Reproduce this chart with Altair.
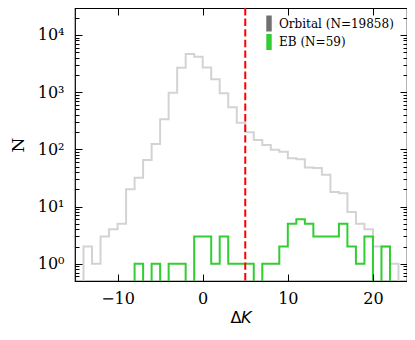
import altair as alt
import pandas as pd

# ---------------- data ----------------
bin_width = 1
orbital_first_edge = -14
orbital_counts = [2, 1, 3, 4, 5, 20, 32, 65, 124, 335, 977, 2667, 4620, 4150, 2700,
                  1672, 953, 543, 292, 199, 146, 119, 98, 91, 70, 67, 48, 47, 36, 18,
                  17, 8, 5, 4, 2, 2, 1]
eb_first_edge = -8
eb_counts = [1, 0, 1, 0, 1, 1, 0, 3, 3, 1, 3, 1, 1, 1, 0, 1, 1, 2, 5, 6, 5, 3, 3, 3,
             5, 2, 1, 3, 0, 2]
series_labels = ["Orbital (N=19858)", "EB (N=59)"]
cut_value = [5]

x_tick_values = [-10, 0, 10, 20]
y_major_values = [1, 10, 100, 1000, 10000]
y_major_labels = ["10\u2070", "10\u00b9", "10\u00b2", "10\u00b3", "10\u2074"]

X_DOMAIN = [-15, 24]
Y_DOMAIN = [0.5, 29500]
W, H = 332, 273
FLOOR = 0.3  # zero-count bins are drawn below the visible area (clipped)


def step_frame(first_edge, counts, name):
    xs, ys = [first_edge], [FLOOR]
    for i, c in enumerate(counts):
        xs.append(first_edge + i * bin_width)
        ys.append(c if c > 0 else FLOOR)
    xs.append(first_edge + len(counts) * bin_width)
    ys.append(FLOOR)
    return pd.DataFrame({"x": xs, "y": ys, "i": range(len(xs)), "series": name})


gray_df = step_frame(orbital_first_edge, orbital_counts, series_labels[0])
green_df = step_frame(eb_first_edge, eb_counts, series_labels[1])
legend_df = pd.DataFrame({"series": series_labels, "x": [None, None], "y": [None, None]})
cut_df = pd.DataFrame({"x": cut_value})

# minor + major tick positions for the log axis
y_all_ticks = [m * 10 ** e for e in range(-1, 5) for m in range(1, 10)]
y_all_ticks = [v for v in y_all_ticks if Y_DOMAIN[0] <= v <= Y_DOMAIN[1]]

xscale = alt.Scale(domain=X_DOMAIN, nice=False, zero=False)
yscale = alt.Scale(type="log", domain=Y_DOMAIN, nice=False)

label_expr = " : ".join(
    f"datum.value == {v} ? '{l}'" for v, l in zip(y_major_values, y_major_labels)
) + " : ''"
major_test = "indexof([" + ",".join(str(v) for v in y_major_values) + "], datum.value) >= 0"
tick_size_cond = {"condition": {"test": major_test, "value": 7}, "value": 4}

common_tick = dict(domain=False, grid=False, labels=False, ticks=True, tickColor="black",
                   tickWidth=1, title=None, zindex=1)

# x axis with labels (bottom), y axis with labels (left)
gray = alt.Chart(gray_df).mark_line(
    interpolate="step-after", color="#d3d3d3", strokeWidth=2, clip=True
).encode(
    x=alt.X("x:Q", scale=xscale, axis=alt.Axis(
        orient="bottom", values=x_tick_values, ticks=False, domain=False, grid=False,
        labelFont="DejaVu Serif", labelFontSize=16, labelColor="black", labelPadding=9,
        title="\u0394\U0001D612", titleFont="DejaVu Sans", titleFontSize=16,
        titleFontWeight="normal", titleColor="black", titlePadding=3)),
    y=alt.Y("y:Q", scale=yscale, axis=alt.Axis(
        orient="left", values=y_major_values, labelExpr=label_expr, ticks=False,
        domain=False, grid=False, labelFont="DejaVu Serif", labelFontSize=16,
        labelColor="black", labelPadding=11, title="N", titleFont="DejaVu Serif",
        titleFontSize=17, titleFontWeight="normal", titleColor="black", titlePadding=10)),
    order="i:Q",
)

# inward ticks: bottom edge (x) and left edge (y)
green = alt.Chart(green_df).mark_line(
    interpolate="step-after", color="#32cd32", strokeWidth=2, clip=True
).encode(
    x=alt.X("x:Q", scale=xscale, axis=alt.Axis(orient="top", offset=-H,
                                               values=x_tick_values, tickSize=7, **common_tick)),
    y=alt.Y("y:Q", scale=yscale, axis=alt.Axis(orient="right", offset=-W,
                                               values=y_all_ticks, tickSize=tick_size_cond,
                                               **common_tick)),
    order="i:Q",
)

# legend layer (no visible marks) + inward ticks on top and right edges
legend_shape = "M-0.34,-1L0.34,-1L0.34,1L-0.34,1Z"
legend = alt.Chart(legend_df).mark_point(filled=True, shape=legend_shape, size=256,
                                         opacity=1).encode(
    x=alt.X("x:Q", scale=xscale, axis=alt.Axis(orient="bottom", offset=-H,
                                               values=x_tick_values, tickSize=7, **common_tick)),
    y=alt.Y("y:Q", scale=yscale, axis=alt.Axis(orient="left", offset=-W,
                                               values=y_all_ticks, tickSize=tick_size_cond,
                                               **common_tick)),
    fill=alt.Fill("series:N", scale=alt.Scale(domain=series_labels,
                                              range=["#707070", "#32cd32"]),
                  legend=alt.Legend(orient="none", legendX=186, legendY=7.5, title=None,
                                    labelFont="DejaVu Serif", labelFontSize=12,
                                    labelColor="black", symbolType=legend_shape,
                                    symbolSize=256, symbolStrokeWidth=0, labelOffset=2,
                                    rowPadding=2.5, padding=0, symbolOpacity=1)),
)

cut = alt.Chart(cut_df).mark_rule(color="#ff0000", strokeWidth=2,
                                  strokeDash=[7.4, 3.2]).encode(
    x=alt.X("x:Q", scale=xscale, axis=None)
)

chart = alt.layer(gray, green, legend, cut).resolve_axis(
    x="independent", y="independent"
).properties(
    width=W, height=H,
    padding={"left": 67, "top": 0, "right": 0, "bottom": 51},
    autosize=alt.AutoSizeParams(type="none"),
).configure_view(stroke="black", strokeWidth=1.2)

chart.save("out.html", embed_options={"renderer": "svg", "actions": False})
